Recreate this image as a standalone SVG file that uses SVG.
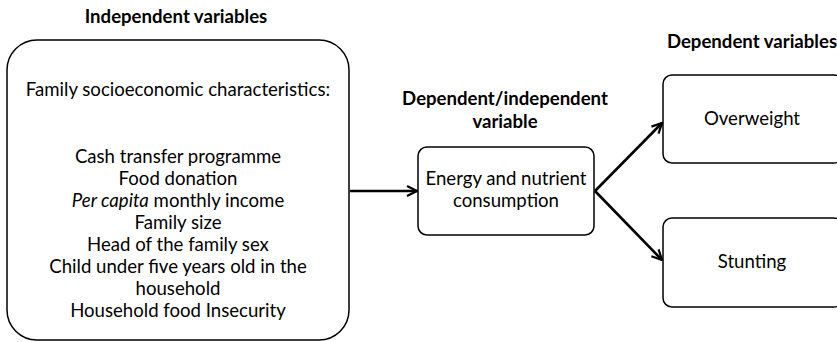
<svg xmlns="http://www.w3.org/2000/svg" width="837" height="342" viewBox="0 0 837 342">
<defs>
<marker id="ah" viewBox="0 0 12 12" refX="11" refY="6" markerWidth="12" markerHeight="12" markerUnits="userSpaceOnUse" orient="auto">
<path d="M1,1 L11,6 L1,11" fill="none" stroke="#000" stroke-width="2.2"/>
</marker>
<style>
.box{fill:#fff;stroke:#000;stroke-width:1.5}
.t{font-family:Lato,"Open Sans",sans-serif;font-size:18.6px;fill:#000;text-anchor:middle}
.h{font-family:Lato,"Open Sans",sans-serif;font-size:18.6px;font-weight:bold;fill:#000;text-anchor:middle}
.c{stroke:#000;stroke-width:2.6;fill:none}
</style>
</defs>
<rect width="837" height="342" fill="#fff"/>
<text class="h" x="176" y="23">Independent variables</text>
<text class="h" x="505" y="105">Dependent/independent</text>
<text class="h" x="505" y="128">variable</text>
<text class="h" x="752" y="48">Dependent variables</text>
<g id="independent">
<rect class="box" x="7" y="40" width="342" height="300" rx="30"/>
<text class="t" x="178" y="96">Family socioeconomic characteristics:</text>
<text class="t" x="178" y="163">Cash transfer programme</text>
<text class="t" x="178" y="185">Food donation</text>
<text class="t" x="178" y="207"><tspan font-style="italic">Per capita</tspan> monthly income</text>
<text class="t" x="178" y="229">Family size</text>
<text class="t" x="178" y="251">Head of the family sex</text>
<text class="t" x="178" y="273">Child under five years old in the</text>
<text class="t" x="178" y="295">household</text>
<text class="t" x="178" y="317">Household food Insecurity</text>
</g>
<g id="energy">
<rect class="box" x="418" y="147" width="176" height="88" rx="9"/>
<text class="t" x="506" y="185">Energy and nutrient</text>
<text class="t" x="506" y="207">consumption</text>
</g>
<g id="overweight">
<rect class="box" x="663" y="75" width="180" height="88" rx="9"/>
<text class="t" x="752" y="125">Overweight</text>
</g>
<g id="stunting">
<rect class="box" x="663" y="218" width="180" height="89" rx="9"/>
<text class="t" x="752" y="268">Stunting</text>
</g>
<g id="connectors">
<line class="c" x1="350" y1="191" x2="417" y2="191" marker-end="url(#ah)"/>
<line class="c" x1="595" y1="191" x2="662" y2="123" marker-end="url(#ah)"/>
<line class="c" x1="595" y1="191" x2="662" y2="260" marker-end="url(#ah)"/>
</g>
</svg>
